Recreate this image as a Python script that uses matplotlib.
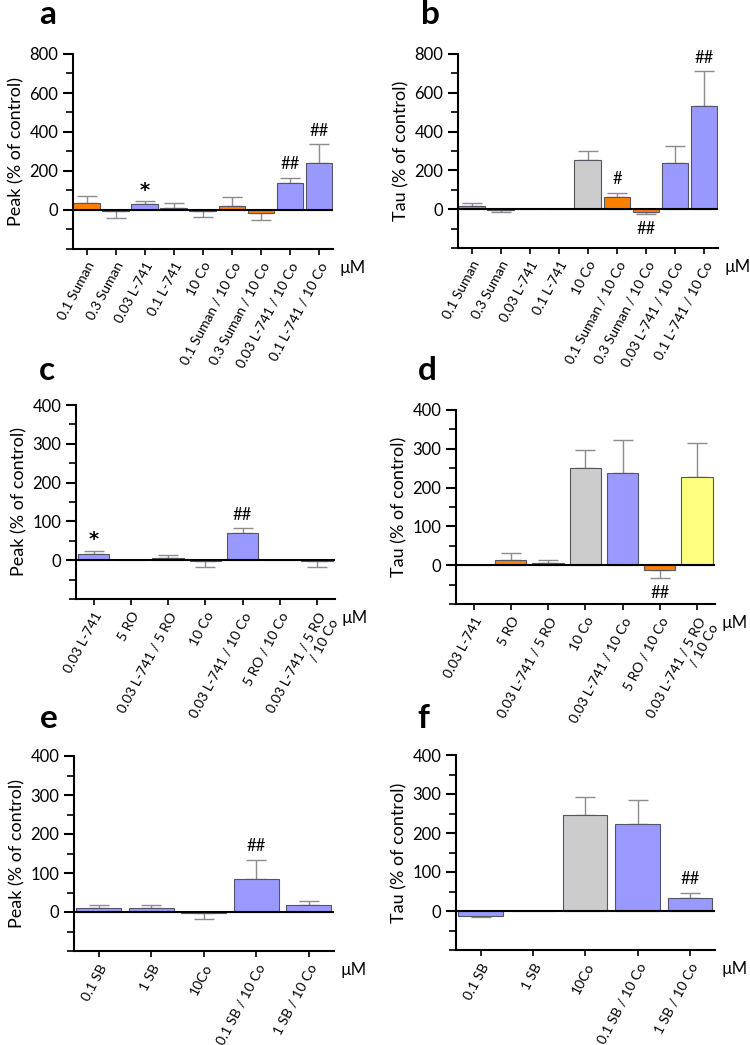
import matplotlib

matplotlib.use("Agg")
import matplotlib.pyplot as plt
from matplotlib.ticker import MultipleLocator

plt.rcParams["font.family"] = ["Lato", "DejaVu Sans"]

# colour codes per bar: o=orange, b=blue, g=gray, y=yellow, n=green
COLORS = {"o": "#ff8000", "b": "#9999ff", "g": "#cccccc", "y": "#ffff80", "n": "#33aa33"}

# panel a: Peak
labels_a = ["0.1 Suman", "0.3 Suman", "0.03 L-741", "0.1 L-741", "10 Co",
            "0.1 Suman / 10 Co", "0.3 Suman / 10 Co", "0.03 L-741 / 10 Co",
            "0.1 L-741 / 10 Co"]
values_a = [37, -5, 31, 10, -5, 20, -15, 136, 240]
errors_a = [35, 36, 15, 27, 29, 46, 36, 28, 98]
colors_a = ["o", "o", "b", "b", "g", "o", "o", "b", "b"]
marks_a = ["", "", "*", "", "", "", "", "##", "##"]

# panel b: Tau
labels_b = labels_a
values_b = [14, -5, 0, 0, 255, 65, -12, 236, 530]
errors_b = [17, 12, 0, 0, 43, 21, 12, 91, 181]
colors_b = ["o", "o", "b", "b", "g", "o", "o", "b", "b"]
marks_b = ["", "", "", "", "", "#", "##", "", "##"]

# panel c: Peak
labels_c = ["0.03 L-741", "5 RO", "0.03 L-741 / 5 RO", "10 Co",
            "0.03 L-741 / 10 Co", "5 RO / 10 Co", "0.03 L-741 / 5 RO\n/ 10 Co"]
values_c = [15, 0, 5, -3, 69, 0, -3]
errors_c = [10, 0, 9, 14, 13, 0, 14]
colors_c = ["b", "o", "n", "g", "b", "o", "y"]
marks_c = ["*", "", "", "", "##", "", ""]

# panel d: Tau
labels_d = labels_c
values_d = [0, 14, 5, 251, 237, -12, 228]
errors_d = [0, 18, 9, 45, 85, 20, 86]
colors_d = ["b", "o", "n", "g", "b", "o", "y"]
marks_d = ["", "", "", "", "", "##", ""]

# panel e: Peak
labels_e = ["0.1 SB", "1 SB", "10Co", "0.1 SB / 10 Co", "1 SB / 10 Co"]
values_e = [10, 10, -3, 85, 18]
errors_e = [8, 8, 15, 49, 10]
colors_e = ["b", "b", "g", "b", "b"]
marks_e = ["", "", "", "##", ""]

# panel f: Tau
labels_f = labels_e
values_f = [-12, 0, 247, 224, 33]
errors_f = [4, 0, 45, 60, 14]
colors_f = ["b", "b", "g", "b", "b"]
marks_f = ["", "", "", "", "##"]


def draw_panel(ax, labels, values, errors, colors, marks, ylabel,
               ymin, ymax, major, width):
    n = len(labels)
    x = list(range(n))
    fills = [COLORS[c] for c in colors]
    ax.bar(x, values, width=width, color=fills, edgecolor="#555566",
           linewidth=0.8, zorder=2)
    # one-sided error bars (away from zero)
    for xi, v, e in zip(x, values, errors):
        if e == 0:
            continue
        if v >= 0:
            yerr = [[0], [e]]
        else:
            yerr = [[e], [0]]
        ax.errorbar(xi, v, yerr=yerr, fmt="none", ecolor="#8c8c8c",
                    elinewidth=1.0, capsize=7, capthick=1.0, zorder=1)
    for xi, v, e, m in zip(x, values, errors, marks):
        if not m:
            continue
        if m == "*":
            ax.annotate(m, (xi, v + e), textcoords="offset points",
                        xytext=(0, 1), ha="center", va="bottom",
                        fontsize=14, fontweight="bold", family="DejaVu Sans")
        elif v >= 0:
            ax.annotate(m, (xi, v + e), textcoords="offset points",
                        xytext=(0, 4), ha="center", va="bottom", fontsize=12)
        else:
            ax.annotate(m, (xi, v - e), textcoords="offset points",
                        xytext=(0, -5), ha="center", va="top", fontsize=12)
    ax.axhline(0, color="black", linewidth=1.5, zorder=3)

    ax.set_xlim(-0.47, n - 0.52)
    ax.set_ylim(ymin, ymax)
    ax.set_yticks(range(0, ymax + 1, major))
    ax.yaxis.set_minor_locator(MultipleLocator(major / 2))
    ax.set_xticks(x)
    ax.set_xticklabels(labels, rotation=62, ha="right", va="top",
                       rotation_mode="anchor", fontsize=10,
                       multialignment="right")
    ax.set_ylabel(ylabel, fontsize=13, labelpad=4)
    ax.tick_params(axis="y", which="major", length=7, width=1.5,
                   labelsize=12, direction="out")
    ax.tick_params(axis="y", which="minor", length=5, width=1.2)
    ax.tick_params(axis="x", length=4, width=1.2, pad=4)
    for s in ["top", "right"]:
        ax.spines[s].set_visible(False)
    for s in ["left", "bottom"]:
        ax.spines[s].set_linewidth(1.5)
    ax.annotate("\u00b5M", (1.0, 0.0), xycoords="axes fraction",
                textcoords="offset points", xytext=(5, -14),
                ha="left", va="center", fontsize=12)


fig = plt.figure(figsize=(7.5, 10.45), dpi=100)
W, H = 750.0, 1045.0


def add_axes(left, right, top, bottom):
    return fig.add_axes([left / W, 1 - bottom / H, (right - left) / W,
                         (bottom - top) / H])


ax_a = add_axes(73, 333, 54, 249)
ax_b = add_axes(458, 718, 54, 248)
ax_c = add_axes(76, 335, 405, 599)
ax_d = add_axes(456, 715, 410, 604)
ax_e = add_axes(74, 334, 756, 951)
ax_f = add_axes(456, 715, 755, 950)

draw_panel(ax_a, labels_a, values_a, errors_a, colors_a, marks_a,
           "Peak (% of control)", -200, 800, 200, 0.92)
draw_panel(ax_b, labels_b, values_b, errors_b, colors_b, marks_b,
           "Tau (% of control)", -200, 800, 200, 0.92)
draw_panel(ax_c, labels_c, values_c, errors_c, colors_c, marks_c,
           "Peak (% of control)", -100, 400, 100, 0.84)
draw_panel(ax_d, labels_d, values_d, errors_d, colors_d, marks_d,
           "Tau (% of control)", -100, 400, 100, 0.84)
draw_panel(ax_e, labels_e, values_e, errors_e, colors_e, marks_e,
           "Peak (% of control)", -100, 400, 100, 0.85)
draw_panel(ax_f, labels_f, values_f, errors_f, colors_f, marks_f,
           "Tau (% of control)", -100, 400, 100, 0.85)

# panel letters
for letter, px, py in [("a", 48, 15), ("b", 430, 15), ("c", 47, 370),
                       ("d", 427, 370), ("e", 49, 718), ("f", 423, 718)]:
    fig.text(px / W, 1 - py / H, letter, fontsize=24, fontweight="bold",
             ha="center", va="center")

fig.savefig("out.png", dpi=100)
